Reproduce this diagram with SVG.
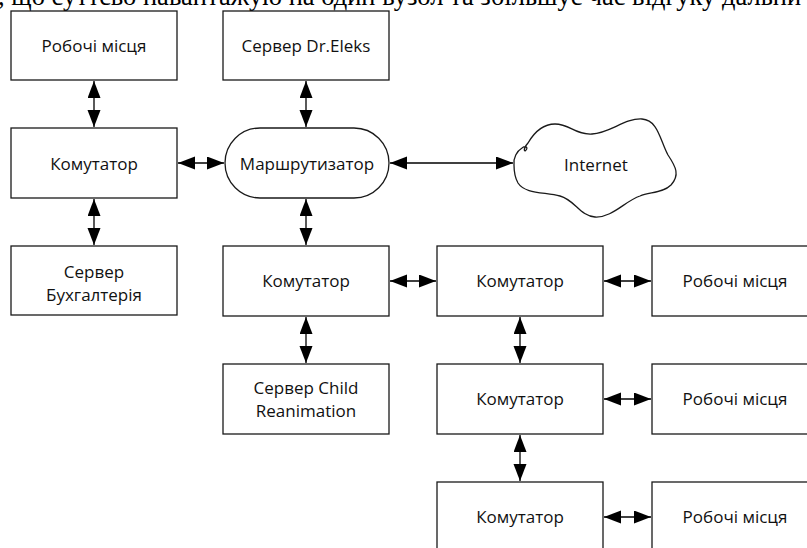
<svg xmlns="http://www.w3.org/2000/svg" width="807" height="548" viewBox="0 0 807 548">
<style>
.box{fill:#fff;stroke:#1a1a1a;stroke-width:1.3}
.lbl{font-family:"Open Sans","Noto Sans","DejaVu Sans",sans-serif;font-size:17px;fill:#111;text-anchor:middle}
.top{font-family:"Liberation Serif","Times New Roman",serif;font-size:26.5px;fill:#000}
.con line{stroke:#000;stroke-width:1.3}
</style>
<defs>
<marker id="ah" markerUnits="userSpaceOnUse" markerWidth="18" markerHeight="14" refX="17" refY="6.5" orient="auto-start-reverse">
<path d="M0,0 L17,6.5 L0,13 Z" fill="#000"/>
</marker>
</defs>
<rect width="807" height="548" fill="#fff"/>
<text class="top" x="-2" y="5">, що суттєво навантажую на один вузол та збільшує час відгуку дальни</text>

<g id="ws1"><rect class="box" x="11" y="11" width="166" height="69"/><text class="lbl" x="94" y="52">Робочі місця</text></g>
<g id="drel"><rect class="box" x="223" y="11" width="166" height="69"/><text class="lbl" x="306" y="52">Сервер Dr.Eleks</text></g>
<g id="sw1"><rect class="box" x="11" y="128" width="166" height="70"/><text class="lbl" x="94" y="170">Комутатор</text></g>
<g id="router"><rect class="box" x="225" y="128" width="164" height="70" rx="35" ry="35"/><text class="lbl" x="307" y="170">Маршрутизатор</text></g>
<g id="internet"><path class="box" d="M514,165 C513,158 517,151 522,148 C526,145 529,148 525,151 C523,150 526,145 528,143 C535,131 543,124 555,124 C570,124 575,135 592,134 C610,133 625,118 642,119 C658,120 660,140 668,155 C676,167 680,175 671,185 C663,193 650,192 640,196 C625,201 612,218 595,217 C580,216 575,200 560,196 C545,192 525,194 518,183 C514,176 514,170 514,165 Z"/><text class="lbl" x="596" y="171">Internet</text></g>
<g id="acc"><rect class="box" x="11" y="246" width="166" height="69"/><text class="lbl" x="94" y="278">Сервер</text><text class="lbl" x="94" y="301">Бухгалтерія</text></g>
<g id="sw2"><rect class="box" x="223" y="246" width="166" height="70"/><text class="lbl" x="306" y="287">Комутатор</text></g>
<g id="sw3"><rect class="box" x="437" y="246" width="166" height="70"/><text class="lbl" x="520" y="287">Комутатор</text></g>
<g id="ws2"><rect class="box" x="652" y="246" width="166" height="70"/><text class="lbl" x="735" y="287">Робочі місця</text></g>
<g id="child"><rect class="box" x="223" y="364" width="166" height="70"/><text class="lbl" x="306" y="394">Сервер Child</text><text class="lbl" x="306" y="417">Reanimation</text></g>
<g id="sw4"><rect class="box" x="437" y="364" width="166" height="70"/><text class="lbl" x="520" y="405">Комутатор</text></g>
<g id="ws3"><rect class="box" x="652" y="364" width="166" height="70"/><text class="lbl" x="735" y="405">Робочі місця</text></g>
<g id="sw5"><rect class="box" x="437" y="482" width="166" height="70"/><text class="lbl" x="520" y="523">Комутатор</text></g>
<g id="ws4"><rect class="box" x="652" y="482" width="166" height="70"/><text class="lbl" x="735" y="523">Робочі місця</text></g>

<g class="con" id="connectors">
<line x1="94" y1="81" x2="94" y2="127" marker-start="url(#ah)" marker-end="url(#ah)"/>
<line x1="94" y1="199" x2="94" y2="245" marker-start="url(#ah)" marker-end="url(#ah)"/>
<line x1="306" y1="81" x2="306" y2="127" marker-start="url(#ah)" marker-end="url(#ah)"/>
<line x1="178" y1="163" x2="224" y2="163" marker-start="url(#ah)" marker-end="url(#ah)"/>
<line x1="390" y1="163" x2="513" y2="163" marker-start="url(#ah)" marker-end="url(#ah)"/>
<line x1="306" y1="199" x2="306" y2="245" marker-start="url(#ah)" marker-end="url(#ah)"/>
<line x1="306" y1="317" x2="306" y2="363" marker-start="url(#ah)" marker-end="url(#ah)"/>
<line x1="390" y1="281" x2="436" y2="281" marker-start="url(#ah)" marker-end="url(#ah)"/>
<line x1="604" y1="281" x2="651" y2="281" marker-start="url(#ah)" marker-end="url(#ah)"/>
<line x1="520" y1="317" x2="520" y2="363" marker-start="url(#ah)" marker-end="url(#ah)"/>
<line x1="604" y1="399" x2="651" y2="399" marker-start="url(#ah)" marker-end="url(#ah)"/>
<line x1="520" y1="435" x2="520" y2="481" marker-start="url(#ah)" marker-end="url(#ah)"/>
<line x1="604" y1="517" x2="651" y2="517" marker-start="url(#ah)" marker-end="url(#ah)"/>
</g>
</svg>
